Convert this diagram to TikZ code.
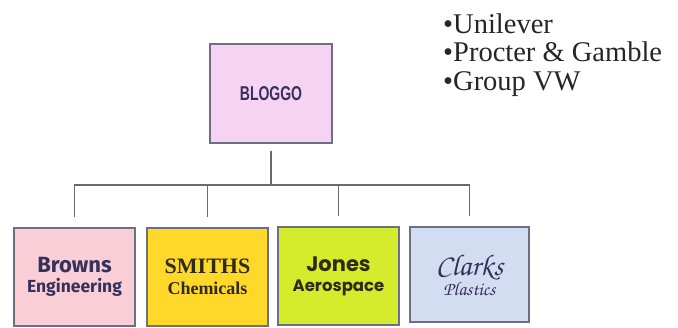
\documentclass[tikz,border=0pt]{standalone}
\usepackage{fontspec}
\setmainfont{Liberation Serif}
\newfontfamily\lsans{Liberation Sans}
\newfontfamily\lserif{Liberation Serif}
\newfontfamily\fira{Fira Sans}
\newfontfamily\popp{Poppins}
\definecolor{bordc}{HTML}{6E6E84}
\definecolor{linec}{HTML}{6A6A6A}
\definecolor{pinkA}{HTML}{F6D3F2}
\definecolor{pinkB}{HTML}{F9CED6}
\definecolor{yelC}{HTML}{FFD82A}
\definecolor{limeC}{HTML}{D5EC2C}
\definecolor{blueC}{HTML}{D3DDF2}
\definecolor{navyT}{HTML}{36305A}
\definecolor{darkT}{HTML}{2E2A14}
\begin{document}
\begin{tikzpicture}[x=1pt,y=-1pt,
  orgbox/.style={draw=bordc,line width=1.3pt,rectangle,minimum height=98pt,minimum width=121pt,inner sep=0pt,align=center},
  conn/.style={draw=linec,line width=1.4pt},
  listitem/.style={anchor=base west,inner sep=0pt,text=black!85,font=\lserif\fontsize{28.5}{30}\selectfont}]
\useasboundingbox[fill=white] (0,0) rectangle (678,327);
\node[orgbox,fill=pinkA,minimum width=122pt,minimum height=99pt,text=navyT,font=\lsans\bfseries] (bloggo) at (271,93.5)
  {\scalebox{0.7}[1]{\fontsize{20}{22}\selectfont BLOGGO}};
\node[orgbox,fill=pinkB,text=navyT,font=\fira\bfseries\fontsize{18}{20}\selectfont] (browns) at (74.5,277)
  {{\fontsize{22}{24}\selectfont Browns}\\{\fontsize{17.5}{20}\selectfont Engineering}};
\node[orgbox,fill=yelC,text=darkT,font=\lserif\bfseries\fontsize{18}{20.5}\selectfont] (smiths) at (207.5,277)
  {{\fontsize{22}{24}\selectfont SMITHS}\\{\fontsize{18}{20}\selectfont Chemicals}};
\node[orgbox,fill=limeC,text=darkT,font=\popp\bfseries\fontsize{18}{20}\selectfont] (jones) at (338.5,276)
  {{\fontsize{21}{24}\selectfont Jones}\\{\fontsize{16.5}{20}\selectfont Aerospace}};
\node[orgbox,fill=blueC,minimum width=119pt,minimum height=95pt,text=navyT,font=\usefont{T1}{pzc}{mb}{it}\fontsize{20}{20}\selectfont] (clarks) at (469.5,274.5)
  {{\fontsize{30}{30}\selectfont Clarks}\\{\fontsize{19}{20}\selectfont Plastics}};
\coordinate (bus) at (271,185);
\draw[conn] ([yshift=-7pt]bloggo.south) -- (bus);
\draw[conn] ([yshift=10pt]browns.north) |- (bus) -| ([yshift=10pt]clarks.north);
\draw[conn] ([yshift=10pt]smiths.north) -- (smiths.north |- bus);
\draw[conn] ([yshift=10pt]jones.north) -- (jones.north |- bus);
\node[listitem] (li1) at (443,33) {\textbullet Unilever};
\node[listitem] (li2) at (443,61.5) {\textbullet Procter \& Gamble};
\node[listitem] (li3) at (443,90) {\textbullet Group VW};
\end{tikzpicture}
\end{document}
